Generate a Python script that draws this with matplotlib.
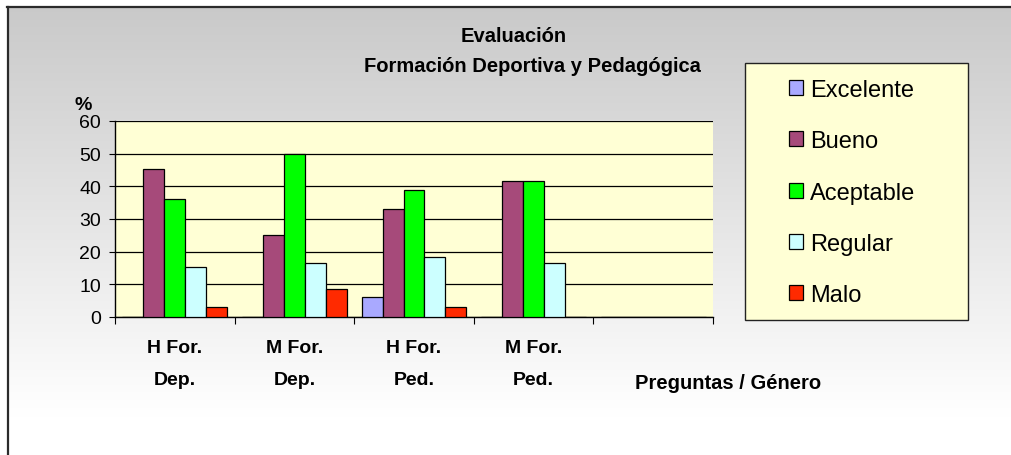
import numpy as np
import matplotlib
matplotlib.use('Agg')
import matplotlib.pyplot as plt
from matplotlib.patches import Rectangle

plt.rcParams['font.family'] = ['Liberation Sans', 'DejaVu Sans']

# Data
categories = ['H For.\nDep.', 'M For.\nDep.', 'H For.\nPed.', 'M For.\nPed.', '']
series = ['Excelente', 'Bueno', 'Aceptable', 'Regular', 'Malo']
excelente = [0, 0, 6.1, 0, 0]
bueno = [45.3, 25.0, 33.0, 41.6, 0]
aceptable = [36.2, 50.0, 39.0, 41.6, 0]
regular = [15.4, 16.6, 18.4, 16.6, 0]
malo = [3.1, 8.6, 3.1, 0, 0]
values = [excelente, bueno, aceptable, regular, malo]
colors = ['#A9A9FF', '#A64A7A', '#00FF00', '#CCFFFF', '#FF2A00']
yticks = [0, 10, 20, 30, 40, 50, 60]

W, H = 1012, 456
fig = plt.figure(figsize=(W / 100, H / 100), dpi=100)

# chart-area gradient background with frame
bg = fig.add_axes([8 / W, 0, 1 - 8 / W, 1 - 8 / H], zorder=-5)
grad = np.linspace(0.79, 1.02, 256)
grad = np.clip(grad, 0, 1).reshape(-1, 1)
bg.imshow(np.dstack([grad, grad, grad]), aspect='auto', extent=[0, 1, 0, 1],
          origin='upper', interpolation='bicubic')
bg.set_axis_off()
fig.add_artist(plt.Line2D([7.5 / W, 1], [1 - 8 / H, 1 - 8 / H], color='#2b2b2b', lw=1.6))
fig.add_artist(plt.Line2D([8 / W, 8 / W], [0, 1 - 8 / H], color='#2b2b2b', lw=1.6))

# plot area
ax = fig.add_axes([115 / W, 1 - 318 / H, 598 / W, 196 / H])
ax.set_facecolor('#FFFFD5')
x = np.arange(len(categories))
w = 0.175
for i, (name, vals, c) in enumerate(zip(series, values, colors)):
    ax.bar(x + (i - 2) * w, vals, w, color=c, edgecolor='black', linewidth=0.9,
           label=name, zorder=3)

ax.set_xlim(-0.5, len(categories) - 0.5)
ax.set_ylim(0, 60)
ax.set_yticks(yticks)
ax.tick_params(axis='y', labelsize=14, length=4, pad=6, direction='out')
ax.yaxis.grid(True, color='black', linewidth=0.9, zorder=1)
ax.set_axisbelow(True)

ax.set_xticks(np.arange(len(categories) + 1) - 0.5)
ax.set_xticklabels([])
ax.tick_params(axis='x', which='major', length=5, direction='out')
ax.set_xticks(x, minor=True)
ax.set_xticklabels(categories, minor=True, fontsize=14, fontweight='bold',
                   linespacing=2.15)
ax.tick_params(axis='x', which='minor', length=0, pad=16)

for s in ['top', 'right']:
    ax.spines[s].set_visible(False)
for s in ['left', 'bottom']:
    ax.spines[s].set_linewidth(1.0)

fig.text(83 / W, 1 - 106 / H, '%', fontsize=14, fontweight='bold',
         ha='center', va='center')
fig.text(728 / W, 1 - 384 / H, 'Preguntas / Género', fontsize=14.5,
         fontweight='bold', ha='center', va='center')

# title
fig.text(514 / W, 1 - 37 / H, 'Evaluación', fontsize=14.5, fontweight='bold',
         ha='center', va='center')
fig.text(532 / W, 1 - 66 / H, 'Formación Deportiva y Pedagógica', fontsize=14.5,
         fontweight='bold', ha='center', va='center')

# legend box
fig.add_artist(Rectangle((745 / W, 1 - 321 / H), 223 / W, 257 / H,
                         transform=fig.transFigure, facecolor='#FFFFD5',
                         edgecolor='#222222', linewidth=1.0, zorder=1))
leg = fig.legend(loc='upper left', bbox_to_anchor=(789 / W, 1 - 80 / H),
                 frameon=False, fontsize=17, borderpad=0, borderaxespad=0,
                 handlelength=0.6, handleheight=0.6, handletextpad=0.3,
                 labelspacing=1.24)
leg.set_zorder(2)

fig.savefig('out.png', dpi=100)
